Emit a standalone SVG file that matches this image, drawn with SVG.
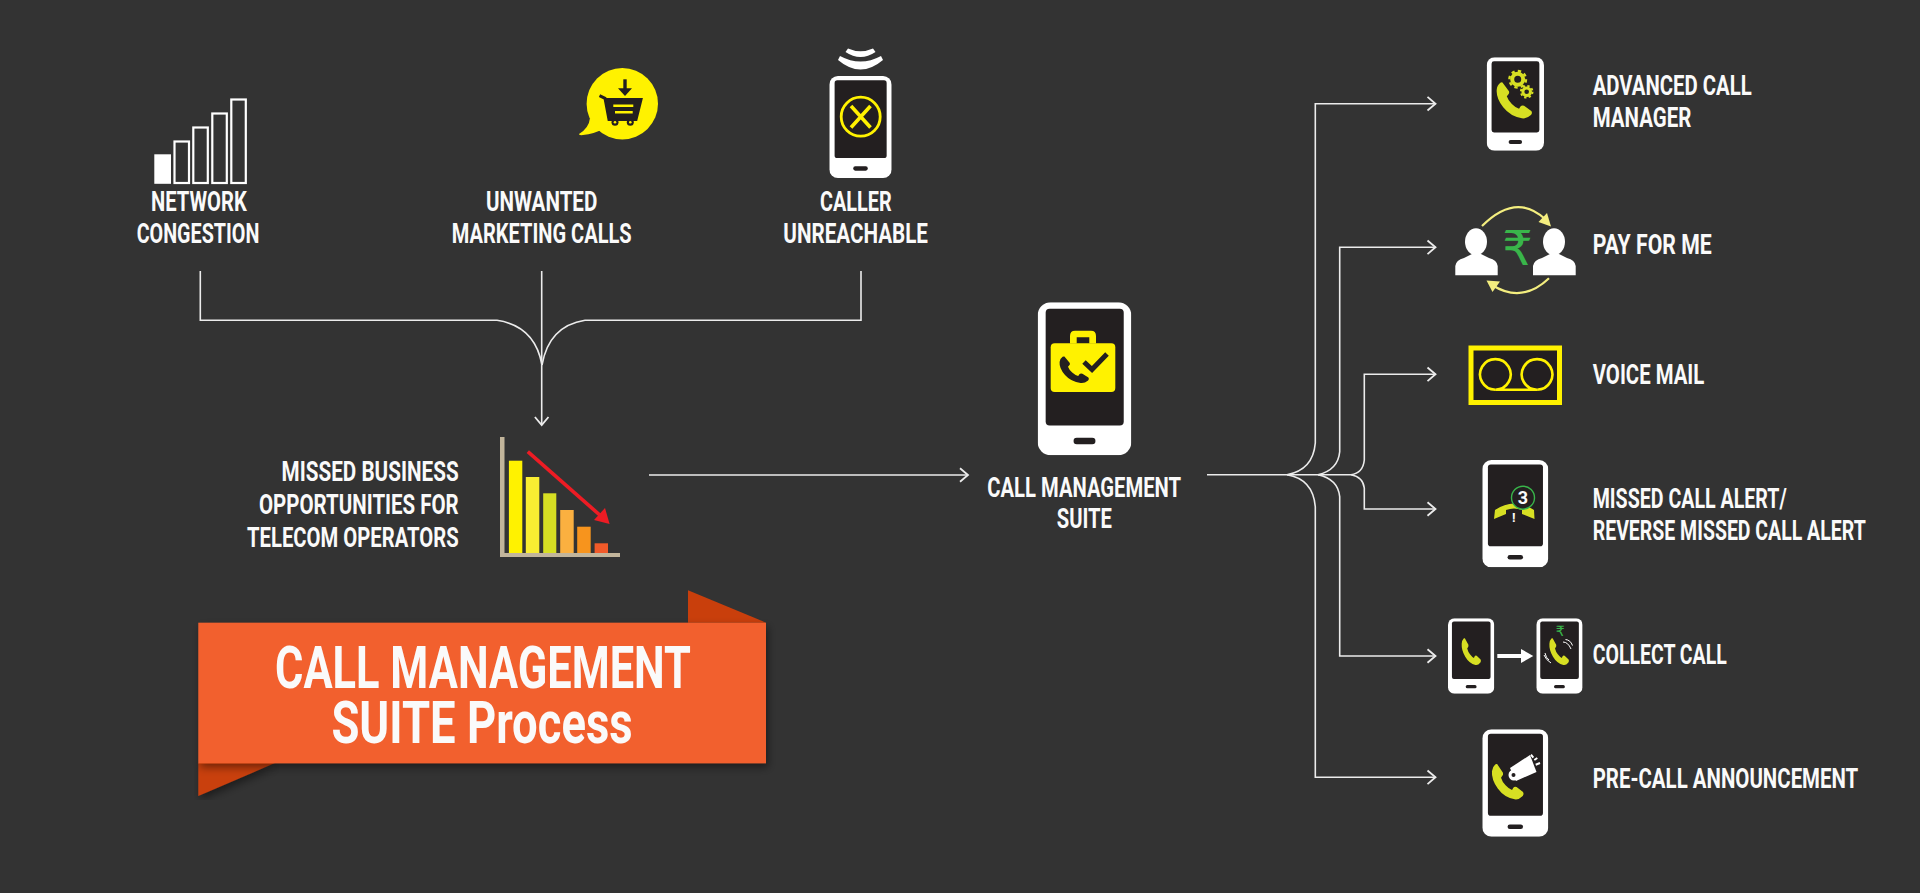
<svg xmlns="http://www.w3.org/2000/svg" width="1920" height="893" viewBox="0 0 1920 893">
<style>
text{font-family:"Roboto","Liberation Sans",sans-serif;font-weight:700;fill:#fafafa}
.l{font-size:28.500px}
.b{font-size:60px}
.wire{fill:none;stroke:#ececec;stroke-width:1.6}
.arr{marker-end:url(#chev)}
.bar{fill:none;stroke:#fff;stroke-width:2.2}
.g{fill:#d7df23}
.sym{font-family:"DejaVu Sans","Noto Sans",sans-serif;font-weight:400;fill:#39b54a}
</style>
<defs>
<marker id="chev" markerUnits="userSpaceOnUse" markerWidth="14" markerHeight="18" refX="10" refY="9" orient="auto" overflow="visible">
<path d="M2 2.200L10 9L2 15.800" fill="none" stroke="#ececec" stroke-width="1.800"/>
</marker>
<symbol id="phone" viewBox="0 0 94 153" preserveAspectRatio="none">
<rect x="0" y="0" width="94" height="153" rx="13" fill="#fff"/>
<rect x="8" y="6.500" width="78.400" height="116.600" rx="4" fill="#231f20"/>
<rect x="36" y="135.500" width="22" height="6.500" rx="3.200" fill="#231f20"/>
</symbol>
<symbol id="hand" viewBox="0 0 100 100" preserveAspectRatio="none" overflow="visible">
<path d="M18 2L36 26Q38 32 33 36L30 40Q34 52 44 61Q54 71 64 74L68 68Q72 63 78 66L98 80Q102 85 97 91Q85 102 72 100Q40 95 20 70Q0 45 2 22Q3 10 12 3Q15 1 18 2Z"/>
</symbol>
<filter id="sh" x="-5%" y="-5%" width="110%" height="115%"><feDropShadow dx="2" dy="4" stdDeviation="4" flood-color="#000" flood-opacity=".45"/></filter>
</defs>
<rect width="1920" height="893" fill="#333"/>

<g id="connectors">
<path class="wire" d="M200.300 271V320.300H497Q535 326 542 365"/>
<path class="wire" d="M861 271V320.300H585Q549 326 542 365"/>
<path class="wire arr" d="M541.700 271V425"/>
<path class="wire arr" d="M649 475H968"/>
<path class="wire" d="M1207 474.700H1351"/>
<path class="wire arr" d="M1287 474.700Q1313 470 1315.300 443V103.700H1435.500"/>
<path class="wire arr" d="M1318 474.700Q1338 470 1339.700 451.700V247.300H1435.500"/>
<path class="wire arr" d="M1351 474.700Q1363 473 1364.300 460V374.300H1435.500"/>
<path class="wire arr" d="M1351 474.700Q1363 477 1364.300 488V509H1435.500"/>
<path class="wire arr" d="M1318 474.700Q1338 479 1339.700 496.700V656H1435.500"/>
<path class="wire arr" d="M1287 474.700Q1313 479 1315.300 506.700V777.300H1435.500"/>
</g>

<g id="network-congestion">
<rect x="154.300" y="154.300" width="16.700" height="29.500" fill="#fff"/>
<rect class="bar" x="174.500" y="141.500" width="14.500" height="41.500"/>
<rect class="bar" x="193.300" y="127.500" width="14.500" height="55.500"/>
<rect class="bar" x="212.300" y="113.500" width="14.500" height="69.500"/>
<rect class="bar" x="231.300" y="99.500" width="14.500" height="83.500"/>
<text class="l" transform="matrix(.75 0 0 1 151 210.700)" textLength="127.600" lengthAdjust="spacingAndGlyphs">NETWORK</text>
<text class="l" transform="matrix(.75 0 0 1 136.700 242.700)" textLength="163.500" lengthAdjust="spacingAndGlyphs">CONGESTION</text>
</g>

<g id="unwanted-marketing-calls">
<circle cx="622.300" cy="103.700" r="35.700" fill="#fff200"/>
<path d="M590 118Q589 128 579 134Q578.500 135.500 583 135Q594 134 603 129Z" fill="#fff200"/>
<path d="M625 79.300V89" stroke="#231f20" stroke-width="3.400" fill="none"/>
<path d="M618 88.300H632L625 96Z" fill="#231f20"/>
<path d="M599.500 95.700L605 98.300L609 119.500H636L641 99.500H605" fill="none" stroke="#231f20" stroke-width="3"/>
<path d="M604.500 99.500H641L636 119.500H609Z" fill="#231f20"/>
<path d="M613.300 105.700H633.300M615 112.300H632.700" stroke="#fff200" stroke-width="2.600"/>
<circle cx="615" cy="122.300" r="3.500" fill="#231f20"/><circle cx="615" cy="122.300" r="1.300" fill="#fff200"/>
<circle cx="630.300" cy="122.300" r="3.500" fill="#231f20"/><circle cx="630.300" cy="122.300" r="1.300" fill="#fff200"/>
<text class="l" transform="matrix(.75 0 0 1 486 210.700)" textLength="148.400" lengthAdjust="spacingAndGlyphs">UNWANTED</text>
<text class="l" transform="matrix(.75 0 0 1 451.700 242.700)" textLength="240" lengthAdjust="spacingAndGlyphs">MARKETING CALLS</text>
</g>

<g id="caller-unreachable">
<path d="M840 56Q860.500 67 881 56L883 60Q860.500 79 838 60Z" fill="#fff"/>
<path d="M848 48.500Q860.500 54 873 48.500L875.500 52Q860.500 62 845.500 52Z" fill="#fff"/>
<use href="#phone" x="829.300" y="76" width="62.400" height="102"/>
<circle cx="860.700" cy="116.700" r="19.500" fill="none" stroke="#fff200" stroke-width="2.800"/>
<path d="M851 106L870.500 127.500M870.500 106L851 127.500" stroke="#fff200" stroke-width="3.600" fill="none"/>
<text class="l" transform="matrix(.75 0 0 1 820 210.700)" textLength="95.600" lengthAdjust="spacingAndGlyphs">CALLER</text>
<text class="l" transform="matrix(.75 0 0 1 783.300 242.700)" textLength="192.900" lengthAdjust="spacingAndGlyphs">UNREACHABLE</text>
</g>

<g id="missed-business">
<text class="l" transform="matrix(.75 0 0 1 281.600 481.300)" textLength="236.100" lengthAdjust="spacingAndGlyphs">MISSED BUSINESS</text>
<text class="l" transform="matrix(.75 0 0 1 259 514)" textLength="266.300" lengthAdjust="spacingAndGlyphs">OPPORTUNITIES FOR</text>
<text class="l" transform="matrix(.75 0 0 1 247 546.700)" textLength="282.300" lengthAdjust="spacingAndGlyphs">TELECOM OPERATORS</text>
<path d="M500 437H504.500V553H620V557H500Z" fill="#c2b59b"/>
<rect x="508.900" y="460.700" width="13.400" height="92.300" fill="#fff200"/>
<rect x="525.800" y="477" width="13.500" height="76" fill="#f9ed32"/>
<rect x="543.200" y="493.300" width="13.100" height="59.700" fill="#d7df23"/>
<rect x="560.200" y="510" width="13.500" height="43" fill="#fbb040"/>
<rect x="577.200" y="526.700" width="13.500" height="26.300" fill="#f7941d"/>
<rect x="594.600" y="543.300" width="13.400" height="9.700" fill="#f15a29"/>
<path d="M527.800 451.700L602 517" stroke="#ed1c24" stroke-width="3.600" fill="none"/>
<path d="M609.600 524L594 520L605 508Z" fill="#ed1c24"/>
</g>

<g id="title-banner">
<path d="M688 590.300L766 622.700H688Z" fill="#c93f0c"/>
<path d="M198.300 763H275L198.300 796Z" fill="#c93f0c" filter="url(#sh)"/>
<rect x="198.300" y="622.700" width="567.700" height="140.600" fill="#f2612e" filter="url(#sh)"/>
<text class="b" transform="matrix(.75 0 0 1 275 687.700)" textLength="554.700" lengthAdjust="spacingAndGlyphs">CALL MANAGEMENT</text>
<text class="b" transform="matrix(.75 0 0 1 331.400 743.300)" textLength="401.600" lengthAdjust="spacingAndGlyphs">SUITE Process</text>
</g>

<g id="call-management-suite">
<use href="#phone" x="1037.700" y="302.300" width="93.600" height="153"/>
<path d="M1070 343.500V336Q1070 330.700 1075 330.700H1091Q1096 330.700 1096 336V343.500H1089.300V337.300H1076.700V343.500Z" fill="#fff200"/>
<rect x="1050.700" y="343.300" width="64.600" height="48.700" rx="4" fill="#fff200"/>
<use href="#hand" x="1059" y="356" width="30" height="27" fill="#231f20"/>
<path d="M1084 362L1092 369.500L1107 354" fill="none" stroke="#231f20" stroke-width="5"/>
<text class="l" transform="matrix(.75 0 0 1 987.300 496.700)" textLength="258.300" lengthAdjust="spacingAndGlyphs">CALL MANAGEMENT</text>
<text class="l" transform="matrix(.75 0 0 1 1056.700 528.300)" textLength="73.700" lengthAdjust="spacingAndGlyphs">SUITE</text>
</g>

<g id="advanced-call-manager">
<use href="#phone" x="1486.700" y="57.300" width="57.300" height="93.400"/>
<use href="#hand" x="1496" y="81.700" width="36" height="36.600" class="g"/>
<circle cx="1517.700" cy="79.300" r="5.500" fill="none" stroke="#d7df23" stroke-width="4"/>
<circle cx="1517.700" cy="79.300" r="8.300" fill="none" stroke="#d7df23" stroke-width="2.400" stroke-dasharray="3.300 3.200"/>
<circle cx="1526.700" cy="91.700" r="3.800" fill="none" stroke="#d7df23" stroke-width="3"/>
<circle cx="1526.700" cy="91.700" r="5.800" fill="none" stroke="#d7df23" stroke-width="2" stroke-dasharray="2.300 2.250"/>
<text class="l" transform="matrix(.75 0 0 1 1592.700 95)" textLength="212" lengthAdjust="spacingAndGlyphs">ADVANCED CALL</text>
<text class="l" transform="matrix(.75 0 0 1 1592.700 127.300)" textLength="131.500" lengthAdjust="spacingAndGlyphs">MANAGER</text>
</g>

<g id="pay-for-me">
<ellipse cx="1476" cy="241.700" rx="11" ry="13.500" fill="#fff"/>
<path d="M1455.300 275.300V266Q1456 260 1464 258L1472 254H1481L1489 258Q1497 260 1497.700 266V275.300Z" fill="#fff"/>
<ellipse cx="1554" cy="241.700" rx="11" ry="13.500" fill="#fff"/>
<path d="M1533 275.300V266Q1534 260 1542 258L1550 254H1559L1567 258Q1575 260 1575.700 266V275.300Z" fill="#fff"/>
<path d="M1482 226Q1516 192 1545 219" fill="none" stroke="#f4ee7f" stroke-width="2.200"/>
<path d="M1551 226.500L1538.500 222L1547 213Z" fill="#f4ee7f"/>
<path d="M1549 278.300Q1522 304 1492 285" fill="none" stroke="#f4ee7f" stroke-width="2.200"/>
<path d="M1486.500 280.500L1500 281.500L1492.500 292Z" fill="#f4ee7f"/>
<text class="sym" x="1517.500" y="265" font-size="48" text-anchor="middle">₹</text>
<text class="l" transform="matrix(.75 0 0 1 1592.700 254.300)" textLength="158.700" lengthAdjust="spacingAndGlyphs">PAY FOR ME</text>
</g>

<g id="voice-mail">
<rect x="1471" y="348" width="88.500" height="54.500" fill="#231f20" stroke="#fff200" stroke-width="5"/>
<path d="M1495.300 389.700A15.300 15.300 0 1 1 1495.400 389.700H1537A15.300 15.300 0 1 1 1537.100 389.700" fill="none" stroke="#fff200" stroke-width="2.600"/>
<text class="l" transform="matrix(.75 0 0 1 1592.700 384)" textLength="148.800" lengthAdjust="spacingAndGlyphs">VOICE MAIL</text>
</g>

<g id="missed-call-alert">
<use href="#phone" x="1482.300" y="460" width="66" height="107.300"/>
<path d="M1494 519L1495 510Q1514 497 1534 510L1534.500 519L1522 514V510Q1514 507 1506 510V514Z" class="g"/>
<circle cx="1523" cy="497.700" r="11.500" fill="#231f20" stroke="#39b54a" stroke-width="1.400"/>
<text x="1523" y="504" font-size="18" text-anchor="middle">3</text>
<text x="1513.700" y="522" font-size="13" text-anchor="middle">!</text>
<text class="l" transform="matrix(.75 0 0 1 1592.700 508.300)" textLength="258.700" lengthAdjust="spacingAndGlyphs">MISSED CALL ALERT/</text>
<text class="l" transform="matrix(.75 0 0 1 1592.700 540.300)" textLength="364" lengthAdjust="spacingAndGlyphs">REVERSE MISSED CALL ALERT</text>
</g>

<g id="collect-call">
<use href="#phone" x="1448" y="618.300" width="46.300" height="75.400"/>
<use href="#hand" x="1461.300" y="637.700" width="19.700" height="27.300" class="g"/>
<path d="M1497.300 656H1522" stroke="#fff" stroke-width="4"/>
<path d="M1521 649L1533.300 656L1521 663Z" fill="#fff"/>
<use href="#phone" x="1536.300" y="618.300" width="46.300" height="75.400"/>
<use href="#hand" x="1549" y="637.700" width="20" height="27.300" class="g"/>
<text class="sym" x="1560.300" y="636" font-size="14" text-anchor="middle">₹</text>
<path d="M1563 642Q1568 642 1571 649M1565.500 639.500Q1570.500 640 1572.500 645.500M1544 655Q1546 660 1551 663M1545 653Q1546 658 1549 660" fill="none" stroke="#fff" stroke-width="1"/>
<text class="l" transform="matrix(.75 0 0 1 1592.700 664.300)" textLength="178.700" lengthAdjust="spacingAndGlyphs">COLLECT CALL</text>
</g>

<g id="pre-call-announcement">
<use href="#phone" x="1482.300" y="729.300" width="66" height="107.400"/>
<use href="#hand" x="1491.300" y="763.300" width="32.400" height="36" class="g"/>
<path d="M1510 768L1530 755L1536.500 772L1516 781Z" fill="#fff"/>
<circle cx="1514" cy="775" r="5.500" fill="#fff"/><circle cx="1513.500" cy="775" r="2" fill="#231f20"/>
<path d="M1531 754.700L1533.300 757.700M1534.300 760L1537.300 758M1535.700 764.700L1540 763" stroke="#fff" stroke-width="2" fill="none"/>
<text class="l" transform="matrix(.75 0 0 1 1592.700 788)" textLength="354.100" lengthAdjust="spacingAndGlyphs">PRE-CALL ANNOUNCEMENT</text>
</g>
</svg>
